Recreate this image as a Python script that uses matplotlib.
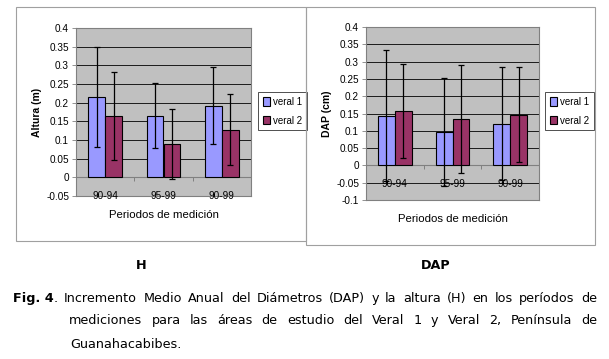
#!/usr/bin/env python3
"""Fig. 4 - incremento medio anual de altura (H) y DAP, Veral 1 y Veral 2."""

import matplotlib
matplotlib.use("Agg")
import matplotlib.pyplot as plt
import matplotlib.ticker as mticker
from matplotlib.patches import Rectangle
import numpy as np

W, H = 609, 359
DPI = 100

periods = ["90-94", "95-99", "90-99"]
series = ["veral 1", "veral 2"]
colors = ["#9999FF", "#993366"]

altura_v1 = [0.215, 0.165, 0.192]
altura_v2 = [0.165, 0.089, 0.128]
altura_err_v1 = [0.135, 0.087, 0.104]
altura_err_v2 = [0.118, 0.094, 0.094]

dap_v1 = [0.144, 0.096, 0.120]
dap_v2 = [0.157, 0.135, 0.147]
dap_err_v1 = [0.189, 0.156, 0.163]
dap_err_v2 = [0.135, 0.156, 0.138]

plt.rcParams["font.family"] = ["Liberation Sans", "DejaVu Sans"]


def px_box(x0, y0, x1, y1):
    """pixel box (top-left origin) -> figure fraction [left, bottom, w, h]"""
    return [x0 / W, 1 - y1 / H, (x1 - x0) / W, (y1 - y0) / H]


def bar_panel(ax, v1, v2, e1, e2, ylim, ylabel):
    x = np.arange(len(periods))
    bw = 0.29
    for off, vals, errs, c, lab in [(-bw / 2, v1, e1, colors[0], series[0]),
                                    (bw / 2, v2, e2, colors[1], series[1])]:
        ax.bar(x + off, vals, bw, color=c, edgecolor="black", linewidth=0.8,
               label=lab, zorder=3)
        ax.errorbar(x + off, vals, yerr=errs, fmt="none", ecolor="black",
                    elinewidth=0.9, capsize=2.5, capthick=0.9, zorder=4)
    ax.set_facecolor("#C0C0C0")
    ax.set_xlim(-0.5, len(periods) - 0.5)
    ax.set_ylim(*ylim)
    ax.yaxis.set_major_locator(mticker.MultipleLocator(0.05))
    ax.yaxis.set_major_formatter(mticker.FuncFormatter(lambda v, _: f"{v:g}" if abs(v) > 1e-9 else "0"))
    ax.grid(axis="y", color="black", linewidth=0.6, zorder=1)
    ax.set_axisbelow(True)
    for s in ax.spines.values():
        s.set_color("#808080")
        s.set_linewidth(0.8)
    ax.tick_params(axis="y", labelsize=7.2, length=3, width=0.6, color="#808080", pad=2)
    ax.set_xticks([])
    # zero line with category separators; labels sit just under it (Excel style)
    ax.axhline(0, color="#808080", linewidth=0.8, zorder=2)
    ax.plot(x[:-1] + 0.5, np.zeros(len(x) - 1), linestyle="none", marker=3,
            markersize=3, markeredgewidth=0.7, color="#808080", zorder=2)
    for xi, lab in zip(x, periods):
        ax.annotate(lab, xy=(xi, 0), xytext=(0, -10), textcoords="offset points",
                    ha="center", va="top", fontsize=7.2, zorder=5)
    ax.set_ylabel(ylabel, fontsize=7.5, fontweight="bold", labelpad=3)
    ax.set_xlabel("Periodos de medición", fontsize=8.2, labelpad=10)


fig = plt.figure(figsize=(W / DPI, H / DPI), dpi=DPI)

# chart frames
for box in [(16, 7, 306, 241), (306, 7, 595, 245)]:
    l, b, w, h = px_box(*box)
    fig.patches.append(Rectangle((l, b), w, h, transform=fig.transFigure,
                                 fill=False, edgecolor="#A0A0A0", linewidth=0.8))

ax1 = fig.add_axes(px_box(76, 28, 251, 196))
bar_panel(ax1, altura_v1, altura_v2, altura_err_v1, altura_err_v2, (-0.05, 0.4), "Altura (m)")

ax2 = fig.add_axes(px_box(366, 27, 539, 200))
bar_panel(ax2, dap_v1, dap_v2, dap_err_v1, dap_err_v2, (-0.1, 0.4), "DAP (cm)")

for ax, (lx, ly) in [(ax1, (258, 92)), (ax2, (545, 92))]:
    leg = ax.legend(loc="upper left", bbox_to_anchor=(lx / W, 1 - ly / H),
                    bbox_transform=fig.transFigure, fontsize=7, frameon=True,
                    fancybox=False, edgecolor="black", handlelength=0.7,
                    handleheight=0.9, handletextpad=0.3, borderpad=0.5,
                    labelspacing=0.9, borderaxespad=0)
    leg.get_frame().set_linewidth(0.6)

# caption
cap_font = ["DejaVu Sans"]
cap_size = 9.2
fig.text(141.5 / W, 1 - 269 / H, "H", ha="center", va="baseline", fontsize=cap_size,
         fontweight="bold", family=cap_font)
fig.text(435.5 / W, 1 - 269 / H, "DAP", ha="center", va="baseline", fontsize=cap_size,
         fontweight="bold", family=cap_font)

renderer = fig.canvas.get_renderer()


def justify(words, x0, x1, y, justify_line=True):
    texts = []
    widths = []
    for word in words:
        segs = []
        wsum = 0
        for txt, bold in word:
            t = fig.text(0, 1 - y / H, txt, ha="left", va="baseline", fontsize=cap_size,
                         fontweight="bold" if bold else "normal", family=cap_font)
            bb = t.get_window_extent(renderer)
            segs.append((t, wsum))
            wsum += bb.width
        texts.append(segs)
        widths.append(wsum)
    if justify_line and len(words) > 1:
        gap = (x1 - x0 - sum(widths)) / (len(words) - 1)
    else:
        gap = 4.5
    x = x0
    for segs, w in zip(texts, widths):
        for t, off in segs:
            t.set_x((x + off) / W)
        x += w + gap


line1 = "Incremento Medio Anual del Diámetros (DAP) y la altura (H) en los períodos de"
line2 = "mediciones para las áreas de estudio del Veral 1 y Veral 2, Península de"
justify([[("Fig. 4", True), (".", False)]] + [[(w, False)] for w in line1.split()],
        13, 597, 302)
justify([[(w, False)] for w in line2.split()], 69, 597, 324)
justify([[("Guanahacabibes.", False)]], 70, 597, 348, justify_line=False)

fig.savefig("out.png", dpi=DPI)
